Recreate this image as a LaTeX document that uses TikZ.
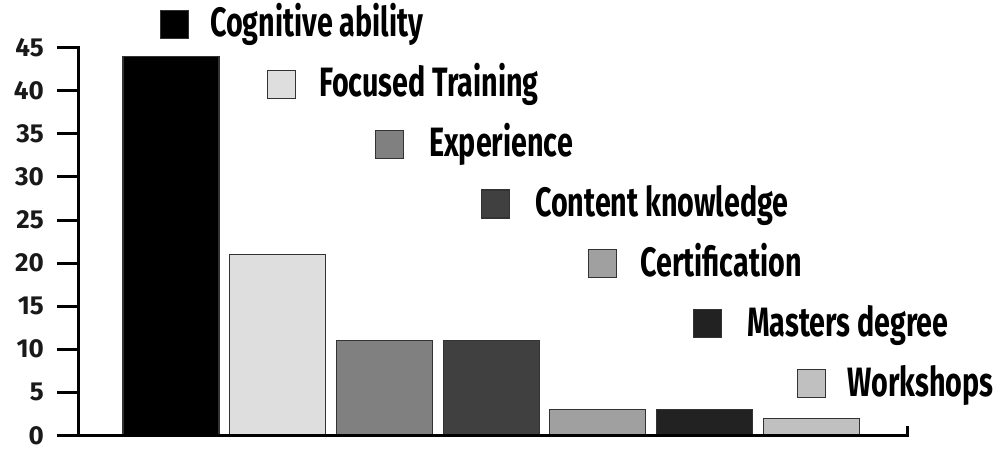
\documentclass[tikz,border=0pt]{standalone}
\usepackage{fontspec}
\setmainfont{Fira Sans}
\definecolor{cA}{HTML}{000000}
\definecolor{cB}{HTML}{DEDEDE}
\definecolor{cC}{HTML}{808080}
\definecolor{cD}{HTML}{404040}
\definecolor{cE}{HTML}{A0A0A0}
\definecolor{cF}{HTML}{222222}
\definecolor{cG}{HTML}{C0C0C0}
\begin{document}
\begin{tikzpicture}[x=1pt,y=-1pt,
  axis/.style={line width=3pt, line cap=rect},
  bar/.style={draw=black!80, line width=1.2pt},
  legsq/.style={draw=black!80, line width=1.2pt, minimum size=28pt, inner sep=0pt, anchor=north west},
  legtxt/.style={anchor=base west, inner sep=0pt, font=\bfseries\fontsize{41}{41}\selectfont},
  ticklbl/.style={anchor=base east, inner sep=0pt, font=\bfseries\fontsize{26}{26}\selectfont, text=black!90}]
\useasboundingbox (0,0) rectangle (995,450);
\fill[white] (0,0) rectangle (995,450);
% bars
\foreach \i/\v/\c in {0/44/cA,1/21/cB,2/11/cC,3/11/cD,4/3/cE,5/3/cF,6/2/cG}{
  \path[bar, fill=\c] ({123+106.7*\i},435.5) rectangle ({219+106.7*\i},{435.5-\v*8.62});
}
% axes
\coordinate (o) at (78,435.5);
\coordinate (ytop) at (78,47.6);
\coordinate (xend) at (907,435.5);
\coordinate (xendt) at (907,427);
\draw[axis] (ytop) -- (o);
\draw[axis] (58,435.5) -- (xend) -- (xendt);
\foreach \v in {0,5,...,45}{
  \draw[axis] (58,{435.5-\v*8.62}) -- (78,{435.5-\v*8.62});
  \node[ticklbl] (t\v) at (44,{444-\v*8.62}) {\v};
}
% legend
\foreach \i/\sx/\tx/\t/\c in {0/160/210/Cognitive ability/cA,1/267/319/Focused Training/cB,2/375/429/Experience/cC,3/481/535/Content knowledge/cD,4/588/640/Certification/cE,5/693/747/Masters degree/cF,6/797/847/Workshops/cG}{
  \node[legsq, fill=\c] (sq\i) at (\sx,{10+59.8*\i}) {};
  \node[legtxt] (lt\i) at (\tx,{36+60*\i}) {\scalebox{0.70}[1]{\t}};
}
\end{tikzpicture}
\end{document}
